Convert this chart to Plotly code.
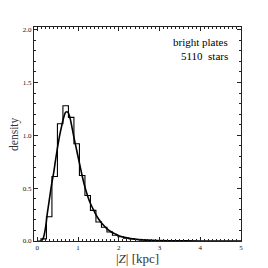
import plotly.graph_objects as go

# Histogram (step) data: bin edges and density values
bin_edges = [0.0, 0.09, 0.225, 0.36, 0.495, 0.63, 0.765, 0.9, 1.035, 1.17, 1.305,
             1.44, 1.575, 1.71, 1.845, 1.98, 2.115, 2.25, 2.385, 2.52, 2.655,
             2.79, 2.925, 3.06, 3.195, 3.33, 3.465, 3.6]
hist_vals = [0.0, 0.02, 0.23, 0.61, 1.11, 1.28, 1.17, 0.92, 0.62, 0.43, 0.29,
             0.18, 0.13, 0.085, 0.055, 0.04, 0.027, 0.02, 0.014, 0.01, 0.007,
             0.005, 0.004, 0.003, 0.002, 0.002, 0.001, 0.0]

# Smooth model curve
curve_x = [0.1, 0.15, 0.2, 0.25, 0.3, 0.35, 0.4, 0.45, 0.5, 0.55, 0.6, 0.65, 0.7,
           0.75, 0.8, 0.85, 0.9, 0.95, 1.0, 1.05, 1.1, 1.15, 1.2, 1.25, 1.3, 1.4,
           1.5, 1.6, 1.7, 1.8, 1.9, 2.0, 2.2, 2.4, 2.6, 2.8, 3.0, 3.3, 3.6, 4.0, 5.0]
curve_y = [0.0, 0.03, 0.12, 0.27, 0.40, 0.53, 0.64, 0.77, 0.89, 1.0, 1.09, 1.17, 1.22,
           1.22, 1.17, 1.08, 0.98, 0.89, 0.80, 0.71, 0.62, 0.54, 0.47, 0.41, 0.36, 0.28,
           0.21, 0.16, 0.12, 0.09, 0.07, 0.05, 0.03, 0.018, 0.011, 0.007, 0.004, 0.002,
           0.001, 0.0005, 0.0]

x_ticks = [0, 1, 2, 3, 4, 5]
y_ticks = [0.0, 0.5, 1.0, 1.5, 2.0]
label_lines = ["bright plates", "5110  stars"]

serif = "Liberation Serif, DejaVu Serif, serif"

fig = go.Figure()
fig.add_trace(go.Scatter(x=bin_edges, y=hist_vals, mode="lines",
                         line=dict(shape="hv", color="black", width=1.1),
                         hoverinfo="skip", showlegend=False))
fig.add_trace(go.Scatter(x=curve_x, y=curve_y, mode="lines",
                         line=dict(shape="spline", color="black", width=1.6),
                         hoverinfo="skip", showlegend=False))

axis_common = dict(showgrid=False, zeroline=False, showline=True, linecolor="#222",
                   linewidth=1, mirror="allticks", ticks="inside", ticklen=4,
                   tickcolor="#222", tickwidth=1,
                   tickfont=dict(family=serif, size=7, color="#111"))

fig.update_xaxes(range=[-0.08, 5.0], tickvals=x_ticks, ticktext=[str(v) for v in x_ticks],
                 minor=dict(dtick=0.1, tick0=0, ticks="inside", ticklen=2,
                            tickcolor="#222", showgrid=False),
                 **axis_common)
fig.update_yaxes(range=[0, 2.025], tickvals=y_ticks,
                 ticktext=[f"{v:.1f}" for v in y_ticks],
                 minor=dict(dtick=0.1, tick0=0, ticks="inside", ticklen=2,
                            tickcolor="#222", showgrid=False),
                 **axis_common)

fig.add_annotation(x=0.947, y=0.93, xref="paper", yref="paper", text=label_lines[0],
                   showarrow=False, xanchor="right", yanchor="middle",
                   font=dict(family=serif, size=11, color="black"))
fig.add_annotation(x=0.947, y=0.864, xref="paper", yref="paper", text=label_lines[1],
                   showarrow=False, xanchor="right", yanchor="middle",
                   font=dict(family=serif, size=11, color="black"))
fig.add_annotation(x=0.5, y=-0.08, xref="paper", yref="paper",
                   text="|<i>Z</i>| [kpc]", showarrow=False,
                   xanchor="center", yanchor="middle",
                   font=dict(family=serif, size=13, color="#333"))
fig.add_annotation(x=-0.097, y=0.5, xref="paper", yref="paper", text="density",
                   showarrow=False, textangle=-90, xanchor="center", yanchor="middle",
                   font=dict(family=serif, size=11.5, color="#333"))

fig.update_layout(width=260, height=260, margin=dict(l=26, r=27, t=19, b=27, autoexpand=False),
                  paper_bgcolor="white", plot_bgcolor="white", showlegend=False)

fig.write_html("out.html")
